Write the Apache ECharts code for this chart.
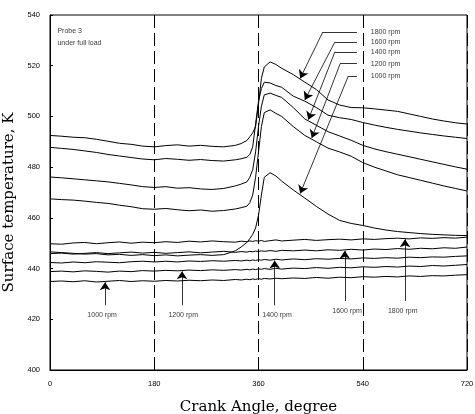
<!DOCTYPE html>
<html>
<head>
<meta charset="utf-8">
<script src="https://cdn.jsdelivr.net/npm/echarts@6/dist/echarts.min.js"></script>
<style>
  html, body { margin: 0; padding: 0; background: #fff; }
  #chart { width: 475px; height: 414px; }
</style>
</head>
<body>
<div id="chart"></div>
<script>
// crank angle samples (deg), denser around TDC
const angles = [
  0, 20, 40, 60, 80, 100, 120, 140, 160,
  180, 200, 220, 240, 260, 280, 300, 320,
  330, 340, 345, 350, 355, 360, 365, 370,
  380, 390, 400,
  420, 440, 460, 480, 500, 520, 540, 560,
  580, 600, 620, 640, 660, 680, 700, 720
];

// upper group (with combustion peak)
const upper1800 = [
  492.5, 492.2, 491.8, 491.6, 491.0, 490.2, 489.4, 489.0, 488.3,
  488.0, 488.5, 488.8, 488.3, 488.6, 488.2, 488.0, 488.6,
  489.3, 490.5, 492.0, 493.5, 496.0, 505.0, 515.0, 519.5,
  521.5, 520.5, 519.0,
  516.5, 513.5, 510.6, 506.5, 504.5, 503.5, 503.4, 503.0,
  502.5, 502.0, 501.0, 500.0, 499.0, 498.2, 497.5, 497.0
];
const upper1600 = [
  487.8, 487.4, 487.0, 486.4, 485.8, 485.0, 484.4, 483.8, 483.2,
  482.9, 483.4, 483.1, 482.7, 483.0, 482.6, 482.4, 482.9,
  483.3, 483.9, 485.0, 488.0, 497.0, 506.0, 511.0, 513.5,
  513.2, 512.2, 511.5,
  508.0, 506.0, 503.5, 500.5, 499.5, 498.8, 497.6, 496.6,
  495.7, 494.9, 494.2, 493.5, 492.9, 492.3, 491.8, 491.3
];
const upper1400 = [
  476.1, 475.8, 475.4, 475.0, 474.6, 474.2, 473.6, 473.0, 472.3,
  472.0, 472.3, 471.7, 471.9, 471.4, 471.2, 471.6, 472.6,
  473.3, 474.2, 476.0, 479.0, 486.0, 496.0, 504.0, 508.5,
  509.2, 508.3, 507.5,
  503.5, 499.0, 496.5, 494.0, 492.3, 490.6, 488.6, 487.2,
  486.1, 485.1, 484.1, 483.1, 482.1, 481.1, 480.1, 479.2
];
const upper1200 = [
  467.5, 467.2, 467.0, 466.6, 466.1, 465.7, 465.0, 464.4, 463.6,
  463.4, 463.7, 463.2, 462.8, 463.1, 462.6, 462.9, 463.5,
  464.0, 464.6, 466.0, 469.0, 476.0, 486.0, 496.0, 501.5,
  502.6, 501.2, 500.0,
  496.0, 492.5, 490.0, 487.5, 486.0, 484.3, 481.8, 480.0,
  478.5, 477.0, 475.9, 474.8, 473.7, 472.6, 471.6, 470.6
];
const upper1000 = [
  446.6, 446.3, 446.0, 445.7, 445.9, 445.4, 445.6, 445.2, 445.5,
  445.1, 445.4, 445.0, 445.3, 445.5, 445.2, 445.5, 447.0,
  448.5, 450.3, 451.8, 453.5, 456.0, 461.0, 469.0, 476.0,
  477.8, 476.5, 474.5,
  471.0, 467.8, 464.5, 461.5, 459.0, 457.8, 457.0, 456.0,
  455.2, 454.6, 454.2, 453.8, 453.5, 453.3, 453.1, 453.0
];

// lower group (nearly flat)
const lower1800 = [
  449.8, 449.6, 450.1, 450.3, 449.8, 450.2, 450.5, 450.0, 450.4,
  450.2, 450.6, 450.3, 450.8, 450.5, 450.9, 450.6, 450.4,
  450.8, 450.6, 450.9, 450.7, 451.0, 450.8, 451.1, 450.7,
  451.0, 451.3, 450.9,
  451.2, 451.5, 451.1, 451.4, 451.6, 451.3, 451.7, 451.5,
  451.8, 452.0, 451.7, 452.1, 451.9, 452.2, 452.0, 452.4
];
const lower1600 = [
  445.9, 446.1, 445.7, 446.0, 446.3, 445.9, 446.2, 446.5, 446.1,
  446.4, 446.0, 446.3, 446.6, 446.2, 446.5, 446.8, 446.4,
  446.7, 446.5, 446.8, 446.6, 446.9, 446.7, 447.0, 446.8,
  447.1, 446.8, 447.2,
  447.0, 447.3, 447.0, 447.4, 447.2, 447.6, 447.3, 447.7,
  447.5, 447.9, 447.6, 448.0, 447.8, 448.2, 448.0, 448.5
];
const lower1400 = [
  442.4, 442.2, 442.6, 442.3, 442.7, 442.5, 442.3, 442.7, 442.9,
  442.6, 442.9, 442.6, 443.0, 442.8, 443.1, 442.9, 443.2,
  443.0, 443.3, 443.1, 443.4, 443.2, 443.5, 443.3, 443.6,
  443.3, 443.7, 443.4,
  443.8, 443.5, 443.9, 443.7, 444.0, 443.8, 444.2, 444.0,
  444.3, 444.1, 444.5, 444.3, 444.6, 444.5, 444.8, 445.0
];
const lower1200 = [
  438.8, 439.0, 438.7, 439.1, 438.9, 438.6, 439.0, 438.8, 439.2,
  439.0, 439.3, 439.1, 439.4, 439.2, 439.5, 439.3, 439.6,
  439.4, 439.7, 439.5, 439.8, 439.6, 439.9, 439.7, 440.0,
  439.7, 440.1, 439.8,
  440.2, 440.0, 440.4, 440.1, 440.5, 440.3, 440.7, 440.5,
  440.8, 440.6, 441.0, 440.8, 441.2, 441.0, 441.3, 441.6
];
const lower1000 = [
  434.9, 435.1, 434.8, 435.2, 434.7, 435.0, 435.3, 434.9, 435.2,
  435.0, 435.3, 435.1, 435.4, 435.2, 435.5, 435.3, 435.7,
  435.5, 435.8, 435.6, 435.9, 435.7, 436.0, 435.8, 436.1,
  435.9, 436.2, 436.0,
  436.3, 436.1, 436.5, 436.2, 436.6, 436.4, 436.8, 436.6,
  436.9, 436.7, 437.1, 436.9, 437.2, 437.1, 437.4, 437.6
];

const rpmNames = ['1800 rpm', '1600 rpm', '1400 rpm', '1200 rpm', '1000 rpm'];

// upper call-outs: label row (K), elbow angle, arrow tip [deg, K]
const upperLabelK = [533.3, 529.4, 525.5, 520.8, 515.9];
const upperElbow = [471, 492, 492, 501, 515];
const upperTips = [[432, 515.0], [440, 506.5], [446, 498.7], [452, 491.5], [432, 469.6]];

// lower call-outs (same rpm order): arrow angle, tip K, label K
const lowerArrowDeg = [613, 509, 388, 228, 95];
const lowerTipK = [451.6, 447.0, 443.2, 438.9, 434.6];
const lowerLabelDeg = [609, 513, 392, 230, 90];
const lowerLabelK = [423.2, 423.2, 421.5, 421.5, 421.5];

const ink = '#000';

function curve(vals) {
  return {
    type: 'line',
    data: angles.map((a, i) => [a, vals[i]]),
    showSymbol: false,
    symbol: 'none',
    lineStyle: { color: ink, width: 1 },
    z: 3
  };
}

function arrowLines(data, withHead) {
  return {
    type: 'lines',
    coordinateSystem: 'cartesian2d',
    symbol: withHead ? ['none', 'arrow'] : ['none', 'none'],
    symbolSize: [0, 8],
    lineStyle: { color: ink, width: 0.8, opacity: 1 },
    data: data,
    z: 5
  };
}

const chart = echarts.init(document.getElementById('chart'));

// horizontal part of the leaders and the arrowed diagonal part
const leaderFlat = upperTips.map((tip, i) => ({
  coords: [[530, upperLabelK[i]], [upperElbow[i], upperLabelK[i]]]
}));
const leaderDiag = upperTips.map((tip, i) => ({
  coords: [[upperElbow[i], upperLabelK[i]], tip]
}));
const lowerArrowData = lowerArrowDeg.map((a, i) => ({
  coords: [[a, lowerLabelK[i] + 4], [a, lowerTipK[i]]]
}));

const textData = [];
rpmNames.forEach((n, i) => {
  textData.push({ value: [553, upperLabelK[i]], name: n, label: { position: 'right', distance: 0 } });
  textData.push({ value: [lowerLabelDeg[i], lowerLabelK[i]], name: n, label: { position: 'inside' } });
});
textData.push({ value: [12, 533.6], name: 'Probe 3', label: { position: 'right', distance: 0 } });
textData.push({ value: [12, 529.0], name: 'under full load', label: { position: 'right', distance: 0 } });

chart.setOption({
  animation: false,
  backgroundColor: '#fff',
  grid: {
    left: 50, right: 8, top: 15, bottom: 44,
    outerBoundsMode: 'none',
    containLabel: false,
    show: true, borderColor: ink, borderWidth: 1, backgroundColor: 'transparent'
  },
  xAxis: {
    type: 'value',
    min: 0, max: 720, interval: 180,
    name: 'Crank Angle, degree',
    nameLocation: 'middle',
    nameGap: 30,
    nameTextStyle: { fontFamily: 'DejaVu Serif', fontSize: 15, color: ink },
    axisLine: { lineStyle: { color: ink, width: 1 } },
    axisTick: { show: false },
    axisLabel: { fontFamily: 'Liberation Sans', fontSize: 7.5, color: ink, margin: 10 },
    splitLine: { show: true, lineStyle: { color: ink, width: 1, type: [13, 5] } }
  },
  yAxis: {
    type: 'value',
    min: 400, max: 540, interval: 20,
    name: 'Surface temperature, K',
    nameLocation: 'middle',
    nameGap: 23,
    nameTextStyle: { fontFamily: 'DejaVu Serif', fontSize: 15, color: ink, padding: [0, 20, 0, 0] },
    axisLine: { show: true, lineStyle: { color: ink, width: 1 } },
    axisTick: { show: true, inside: true, length: 3, lineStyle: { color: ink } },
    axisLabel: { fontFamily: 'Liberation Sans', fontSize: 7.5, color: ink, margin: 10 },
    splitLine: { show: false }
  },
  series: [
    curve(upper1800), curve(upper1600), curve(upper1400), curve(upper1200), curve(upper1000),
    curve(lower1800), curve(lower1600), curve(lower1400), curve(lower1200), curve(lower1000),
    arrowLines(leaderFlat, false),
    arrowLines(leaderDiag, true),
    arrowLines(lowerArrowData, true),
    {
      type: 'scatter',
      symbolSize: 1,
      itemStyle: { color: 'rgba(0,0,0,0)' },
      data: textData,
      label: {
        show: true,
        formatter: p => p.name,
        fontFamily: 'Liberation Sans',
        fontSize: 7,
        color: ink
      },
      z: 6
    }
  ]
});
</script>
</body>
</html>
